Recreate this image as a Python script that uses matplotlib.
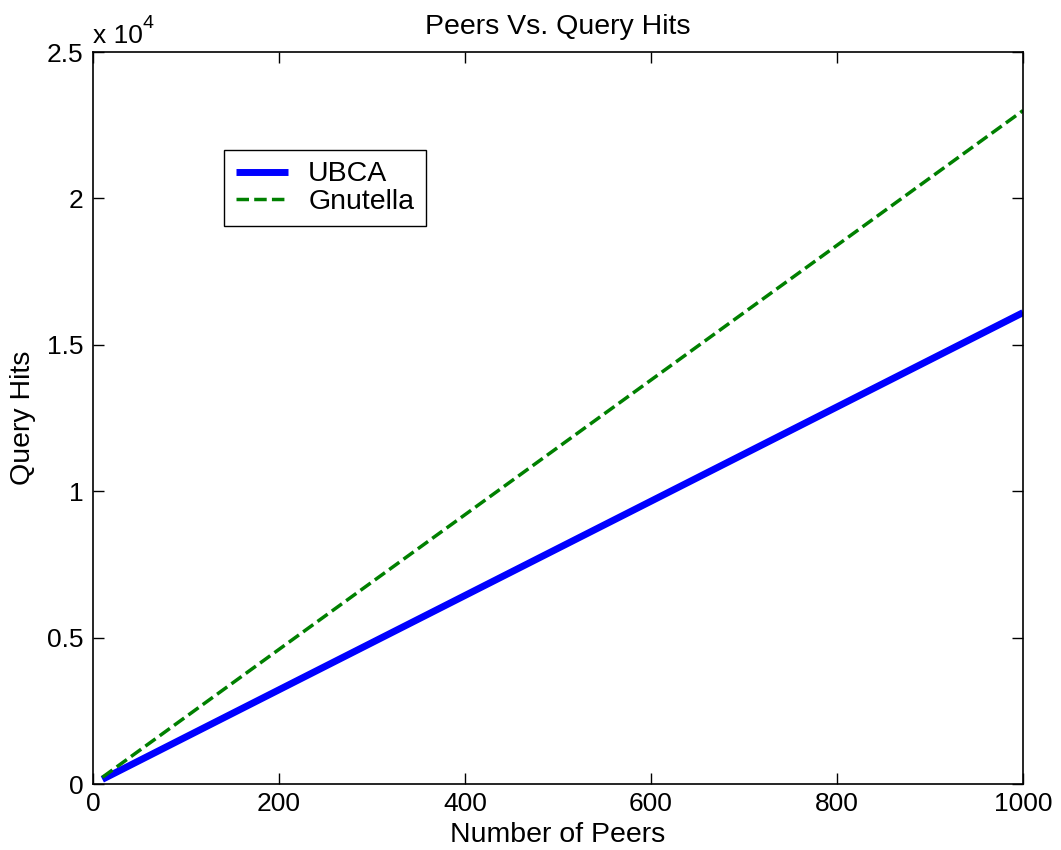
import matplotlib.pyplot as plt
from matplotlib.ticker import FuncFormatter

plt.rcParams['font.family'] = ['Liberation Sans', 'DejaVu Sans']

peers = [10, 100, 200, 300, 400, 500, 600, 700, 800, 900, 1000]
ubca = [160, 1610, 3220, 4830, 6440, 8050, 9660, 11270, 12880, 14490, 16100]
gnutella = [230, 2300, 4600, 6900, 9200, 11500, 13800, 16100, 18400, 20700, 23000]

fs = 20.5
tfs = 19
fig = plt.figure(figsize=(10.61, 8.5), dpi=100)
ax = fig.add_axes([0.0877, 0.0776, 0.8765, 0.8612])

ax.plot(peers, ubca, color='#0000ff', lw=5, solid_capstyle='butt', label='UBCA')
ax.plot(peers, gnutella, color='#008000', lw=2.5, ls=(0, (3.6, 1.5)), label='Gnutella')

ax.set_xlim(0, 1000)
ax.set_ylim(0, 25000)
ax.set_xticks([0, 200, 400, 600, 800, 1000])
ax.set_yticks([0, 5000, 10000, 15000, 20000, 25000])
ax.yaxis.set_major_formatter(FuncFormatter(lambda v, p: '%g' % (v / 1e4)))
ax.tick_params(direction='in', top=True, right=True, length=8, width=1,
               labelsize=tfs)
ax.tick_params(axis='x', pad=5.5)
ax.tick_params(axis='y', pad=7)
for s in ax.spines.values():
    s.set_linewidth(1.2)

ax.set_title('Peers Vs. Query Hits', fontsize=fs, pad=13)
ax.set_xlabel('Number of Peers', fontsize=fs)
ax.xaxis.set_label_coords(0.5, -0.0515)
ax.set_ylabel('Query Hits', fontsize=fs)
ax.yaxis.set_label_coords(-0.061, 0.5)

# MATLAB style exponent label above the y axis
ax.text(0.0, 1.0123, 'x 10', transform=ax.transAxes, fontsize=tfs, ha='left', va='baseline')
ax.text(0.0535, 1.0328, '4', transform=ax.transAxes, fontsize=14, ha='left', va='baseline')

leg = ax.legend(loc='upper left', bbox_to_anchor=(0.141, 0.866), fontsize=fs,
                frameon=True, fancybox=False, edgecolor='black', framealpha=1,
                borderaxespad=0, handlelength=1.85, borderpad=0.4,
                labelspacing=0.05, handletextpad=0.7)
leg.get_frame().set_linewidth(1)

fig.savefig('out.png', dpi=100)
